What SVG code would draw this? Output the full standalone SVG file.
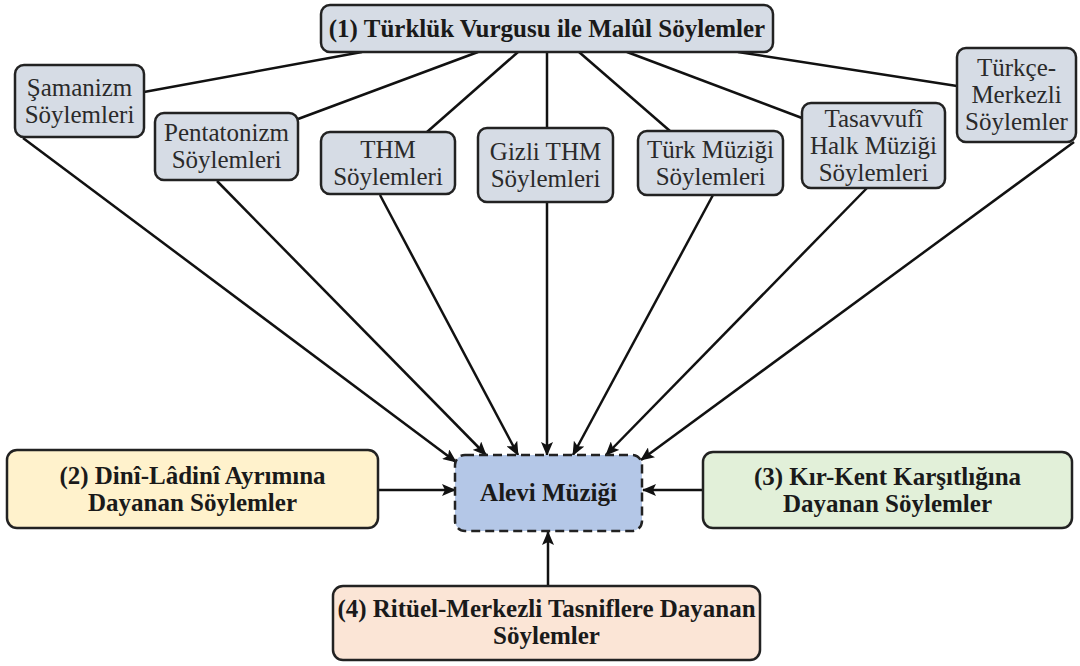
<svg xmlns="http://www.w3.org/2000/svg" width="1080" height="666" viewBox="0 0 1080 666">
<defs>
<marker id="ah" markerUnits="userSpaceOnUse" markerWidth="14" markerHeight="12" viewBox="0 0 14 12" refX="13" refY="6" orient="auto">
<path d="M0,0 L14,6 L0,12 L3,6 Z" fill="#111"/>
</marker>
<style>
.sub rect{fill:#D6DCE5;stroke:#222;stroke-width:2.5}
.sub text{font-size:25px;fill:#2a2a2a;text-anchor:middle}
.main text{font-size:25px;font-weight:bold;fill:#1a1a1a;text-anchor:middle}
.main rect{stroke:#222;stroke-width:2.5}
.ln{stroke:#111;stroke-width:2.5;fill:none}
.ar{stroke:#111;stroke-width:2.5;fill:none;marker-end:url(#ah)}
</style>
</defs>
<rect width="1080" height="666" fill="#fff"/>
<g id="connectors">
<line class="ln" x1="144" y1="92" x2="362" y2="52"/>
<line class="ln" x1="298" y1="119" x2="478" y2="52"/>
<line class="ln" x1="427" y1="132" x2="518" y2="52"/>
<line class="ln" x1="547" y1="128" x2="547" y2="52"/>
<line class="ln" x1="670" y1="131" x2="579" y2="52"/>
<line class="ln" x1="802" y1="118" x2="627" y2="52"/>
<line class="ln" x1="957" y1="86" x2="738" y2="52"/>
<line class="ar" x1="23" y1="138" x2="456" y2="462"/>
<line class="ar" x1="217" y1="181" x2="486" y2="455"/>
<line class="ar" x1="380" y1="195" x2="518" y2="455"/>
<line class="ar" x1="547" y1="202" x2="547" y2="455"/>
<line class="ar" x1="713" y1="195" x2="573" y2="455"/>
<line class="ar" x1="867" y1="188" x2="606" y2="455"/>
<line class="ar" x1="1074" y1="142" x2="641" y2="460"/>
<line class="ar" x1="378" y1="490" x2="455" y2="490"/>
<line class="ar" x1="703" y1="490" x2="643" y2="490"/>
<line class="ar" x1="548" y1="586" x2="548" y2="532"/>
</g>
<g font-family="Liberation Serif, Tinos, DejaVu Serif, serif">
<g id="n_top" class="main">
<rect x="321" y="5" width="452" height="47" rx="9" fill="#D6DCE5"/>
<text x="547" y="37">(1) Türklük Vurgusu ile Malûl Söylemler</text>
</g>
<g id="n_samanizm" class="sub">
<rect x="15" y="65" width="129" height="72" rx="9"/>
<text x="79.5" y="95.5">Şamanizm</text>
<text x="79.5" y="122.5">Söylemleri</text>
</g>
<g id="n_pentatonizm" class="sub">
<rect x="155" y="113" width="143" height="67" rx="9"/>
<text x="226.5" y="141">Pentatonizm</text>
<text x="226.5" y="168">Söylemleri</text>
</g>
<g id="n_thm" class="sub">
<rect x="321" y="132" width="134" height="62" rx="9"/>
<text x="388" y="157.5">THM</text>
<text x="388" y="184.5">Söylemleri</text>
</g>
<g id="n_gizli" class="sub">
<rect x="478" y="128" width="135" height="74" rx="9"/>
<text x="545.5" y="159.5">Gizli THM</text>
<text x="545.5" y="186.5">Söylemleri</text>
</g>
<g id="n_turk" class="sub">
<rect x="638" y="131" width="145" height="64" rx="9"/>
<text x="710.5" y="157.5">Türk Müziği</text>
<text x="710.5" y="184.5">Söylemleri</text>
</g>
<g id="n_tasavvufi" class="sub">
<rect x="802" y="103" width="143" height="85" rx="9"/>
<text x="873.5" y="126.5">Tasavvufî</text>
<text x="873.5" y="153.5">Halk Müziği</text>
<text x="873.5" y="180.5">Söylemleri</text>
</g>
<g id="n_turkce" class="sub">
<rect x="957" y="48" width="119" height="94" rx="9"/>
<text x="1016.5" y="76">Türkçe-</text>
<text x="1016.5" y="103">Merkezli</text>
<text x="1016.5" y="130">Söylemler</text>
</g>
<g id="n_alevi" class="main">
<rect x="455" y="455" width="187" height="76" rx="10" fill="#B4C7E7" stroke-dasharray="9 5"/>
<text x="548.5" y="501">Alevi Müziği</text>
</g>
<g id="n_dini" class="main">
<rect x="7" y="450" width="371" height="78" rx="10" fill="#FFF2CC"/>
<text x="192.5" y="483.5">(2) Dinî-Lâdinî Ayrımına</text>
<text x="192.5" y="510.5">Dayanan Söylemler</text>
</g>
<g id="n_kirkent" class="main">
<rect x="703" y="452" width="369" height="76" rx="10" fill="#E2F0D9"/>
<text x="887.5" y="484.5">(3) Kır-Kent Karşıtlığına</text>
<text x="887.5" y="511.5">Dayanan Söylemler</text>
</g>
<g id="n_rituel" class="main">
<rect x="333" y="586" width="427" height="74" rx="10" fill="#FBE5D6"/>
<text x="546.5" y="617">(4) Ritüel-Merkezli Tasniflere Dayanan</text>
<text x="546.5" y="644">Söylemler</text>
</g>
</g>
</svg>
